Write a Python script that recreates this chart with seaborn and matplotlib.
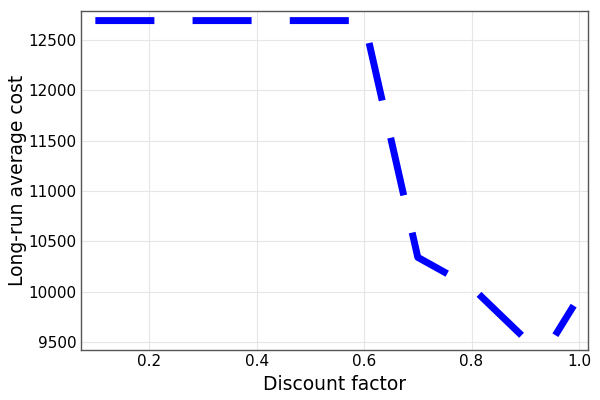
import matplotlib
matplotlib.use("Agg")
import matplotlib.pyplot as plt
import seaborn as sns
import pandas as pd

# discount factor vs long-run average cost
discount = [0.1, 0.2, 0.3, 0.4, 0.5, 0.6, 0.7, 0.8, 0.9, 0.95, 0.99]
avg_cost = [12690, 12690, 12690, 12690, 12690, 12690, 10341, 10045, 9532, 9517, 9862]

df = pd.DataFrame({"discount": discount, "cost": avg_cost})

sns.set_style("white")
plt.rcParams["font.family"] = ["DejaVu Sans"]

fig = plt.figure(figsize=(6, 4), dpi=100)
ax = fig.add_axes([0.135, 0.125, 0.845, 0.8475])

sns.lineplot(data=df, x="discount", y="cost", ax=ax, color="#0000ff",
             linewidth=5, dashes=False)
line = ax.get_lines()[0]
line.set_dashes([8.5, 5.5])
line.set_dash_capstyle("butt")

pad_x = 0.03 * (max(discount) - min(discount))
pad_y = 0.03 * (max(avg_cost) - min(avg_cost))
ax.set_xlim(min(discount) - pad_x, max(discount) + pad_x)
ax.set_ylim(min(avg_cost) - pad_y, max(avg_cost) + pad_y)

ax.set_xticks([0.2, 0.4, 0.6, 0.8, 1.0])
ax.set_xticklabels(["0.2", "0.4", "0.6", "0.8", "1.0"])
ax.set_yticks([9500, 10000, 10500, 11000, 11500, 12000, 12500])

ax.grid(True, color="#e6e6e6", linewidth=0.8)
ax.tick_params(direction="in", length=3, width=0.8, color="#555555",
               labelsize=11, labelcolor="#000000", pad=3)
for side in ["left", "bottom", "top", "right"]:
    ax.spines[side].set_color("#555555")
    ax.spines[side].set_linewidth(1.0)

ax.set_xlabel("Discount factor", fontsize=13.5, labelpad=4, color="black")
ax.set_ylabel("Long-run average cost", fontsize=13.5, labelpad=1, color="black")

fig.savefig("out.png", dpi=100)
